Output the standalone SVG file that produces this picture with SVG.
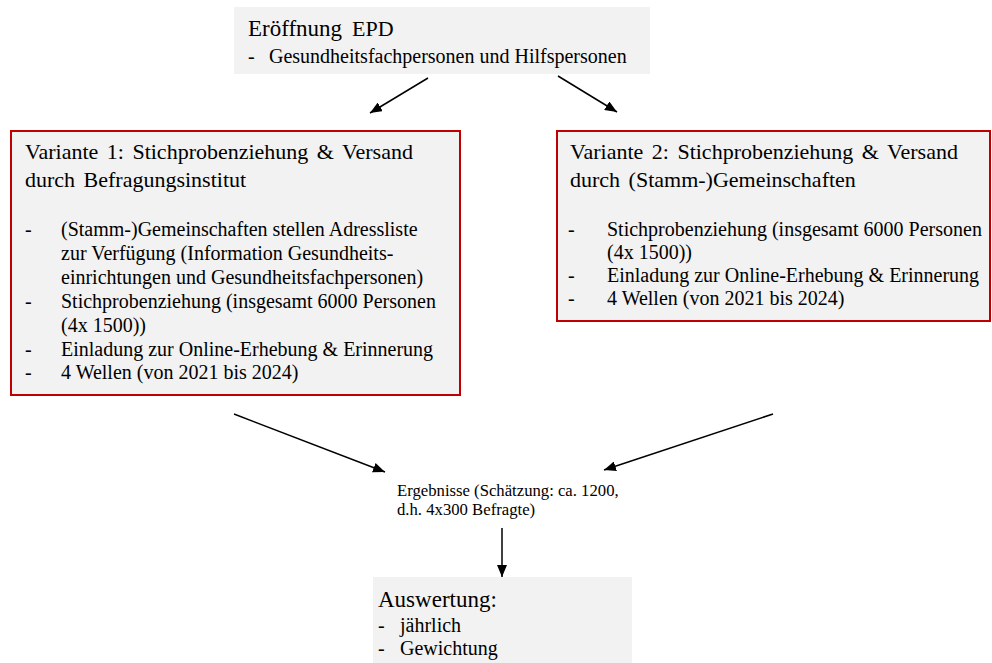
<svg xmlns="http://www.w3.org/2000/svg" width="992" height="663" viewBox="0 0 992 663">
<style>
text{font-family:"Liberation Serif","Times New Roman",serif;fill:#000}
.box{fill:#f2f2f2}
.rbox{fill:#f2f2f2;stroke:#c00000;stroke-width:2}
.h{font-size:22px;word-spacing:3px}
.b{font-size:20px}
.t{font-size:23px}
.s{font-size:16.7px}
.con{stroke:#000;stroke-width:1.5;fill:none;marker-end:url(#ah)}
</style>
<defs>
<marker id="ah" viewBox="0 0 12 10" refX="12" refY="5" markerWidth="12" markerHeight="10" markerUnits="userSpaceOnUse" orient="auto">
<path d="M0,0 L12,5 L0,10 z" fill="#000"/>
</marker>
</defs>
<rect width="992" height="663" fill="#fff"/>
<g id="connectors">
<line class="con" x1="428" y1="78" x2="370" y2="113"/>
<line class="con" x1="558" y1="76" x2="617" y2="112"/>
<line class="con" x1="234" y1="414" x2="385" y2="472"/>
<line class="con" x1="773" y1="414" x2="604" y2="470"/>
<line class="con" x1="502" y1="528" x2="502" y2="577"/>
</g>
<g id="eroeffnung">
<rect class="box" x="234" y="7" width="416" height="67"/>
<text class="t" x="248" y="36">Eröffnung<tspan x="352" style="font-size:22px">EPD</tspan></text>
<text style="font-size:20px" x="248" y="63">-<tspan x="269">Gesundheitsfachpersonen und Hilfspersonen</tspan></text>
</g>
<g id="variante1">
<rect class="rbox" x="11" y="131" width="449" height="264"/>
<text class="h" x="25" y="159">Variante 1: Stichprobenziehung &amp; Versand</text>
<text class="h" x="25" y="187">durch Befragungsinstitut</text>
<text class="b" x="25" y="236">-<tspan x="61">(Stamm-)Gemeinschaften stellen Adressliste</tspan></text>
<text class="b" x="61" y="260">zur Verfügung (Information Gesundheits-</text>
<text class="b" x="61" y="284">einrichtungen und Gesundheitsfachpersonen)</text>
<text class="b" x="25" y="308">-<tspan x="61">Stichprobenziehung (insgesamt 6000 Personen</tspan></text>
<text class="b" x="61" y="332">(4x 1500))</text>
<text class="b" x="25" y="356">-<tspan x="61">Einladung zur Online-Erhebung &amp; Erinnerung</tspan></text>
<text class="b" x="25" y="379">-<tspan x="61">4 Wellen (von 2021 bis 2024)</tspan></text>
</g>
<g id="variante2">
<rect class="rbox" x="557" y="131" width="433" height="190"/>
<text class="h" x="570" y="159">Variante 2: Stichprobenziehung &amp; Versand</text>
<text class="h" x="570" y="187">durch (Stamm-)Gemeinschaften</text>
<text class="b" x="568" y="236">-<tspan x="607">Stichprobenziehung (insgesamt 6000 Personen</tspan></text>
<text class="b" x="607" y="259">(4x 1500))</text>
<text class="b" x="568" y="282">-<tspan x="607">Einladung zur Online-Erhebung &amp; Erinnerung</tspan></text>
<text class="b" x="568" y="305">-<tspan x="607">4 Wellen (von 2021 bis 2024)</tspan></text>
</g>
<g id="ergebnisse">
<text class="s" x="397" y="496">Ergebnisse (Schätzung: ca. 1200,</text>
<text class="s" x="397" y="515">d.h. 4x300 Befragte)</text>
</g>
<g id="auswertung">
<rect class="box" x="373" y="577" width="259" height="86"/>
<text class="t" x="378" y="607">Auswertung:</text>
<text class="b" x="378" y="632">-<tspan x="400">jährlich</tspan></text>
<text class="b" x="378" y="655">-<tspan x="400">Gewichtung</tspan></text>
</g>
</svg>
